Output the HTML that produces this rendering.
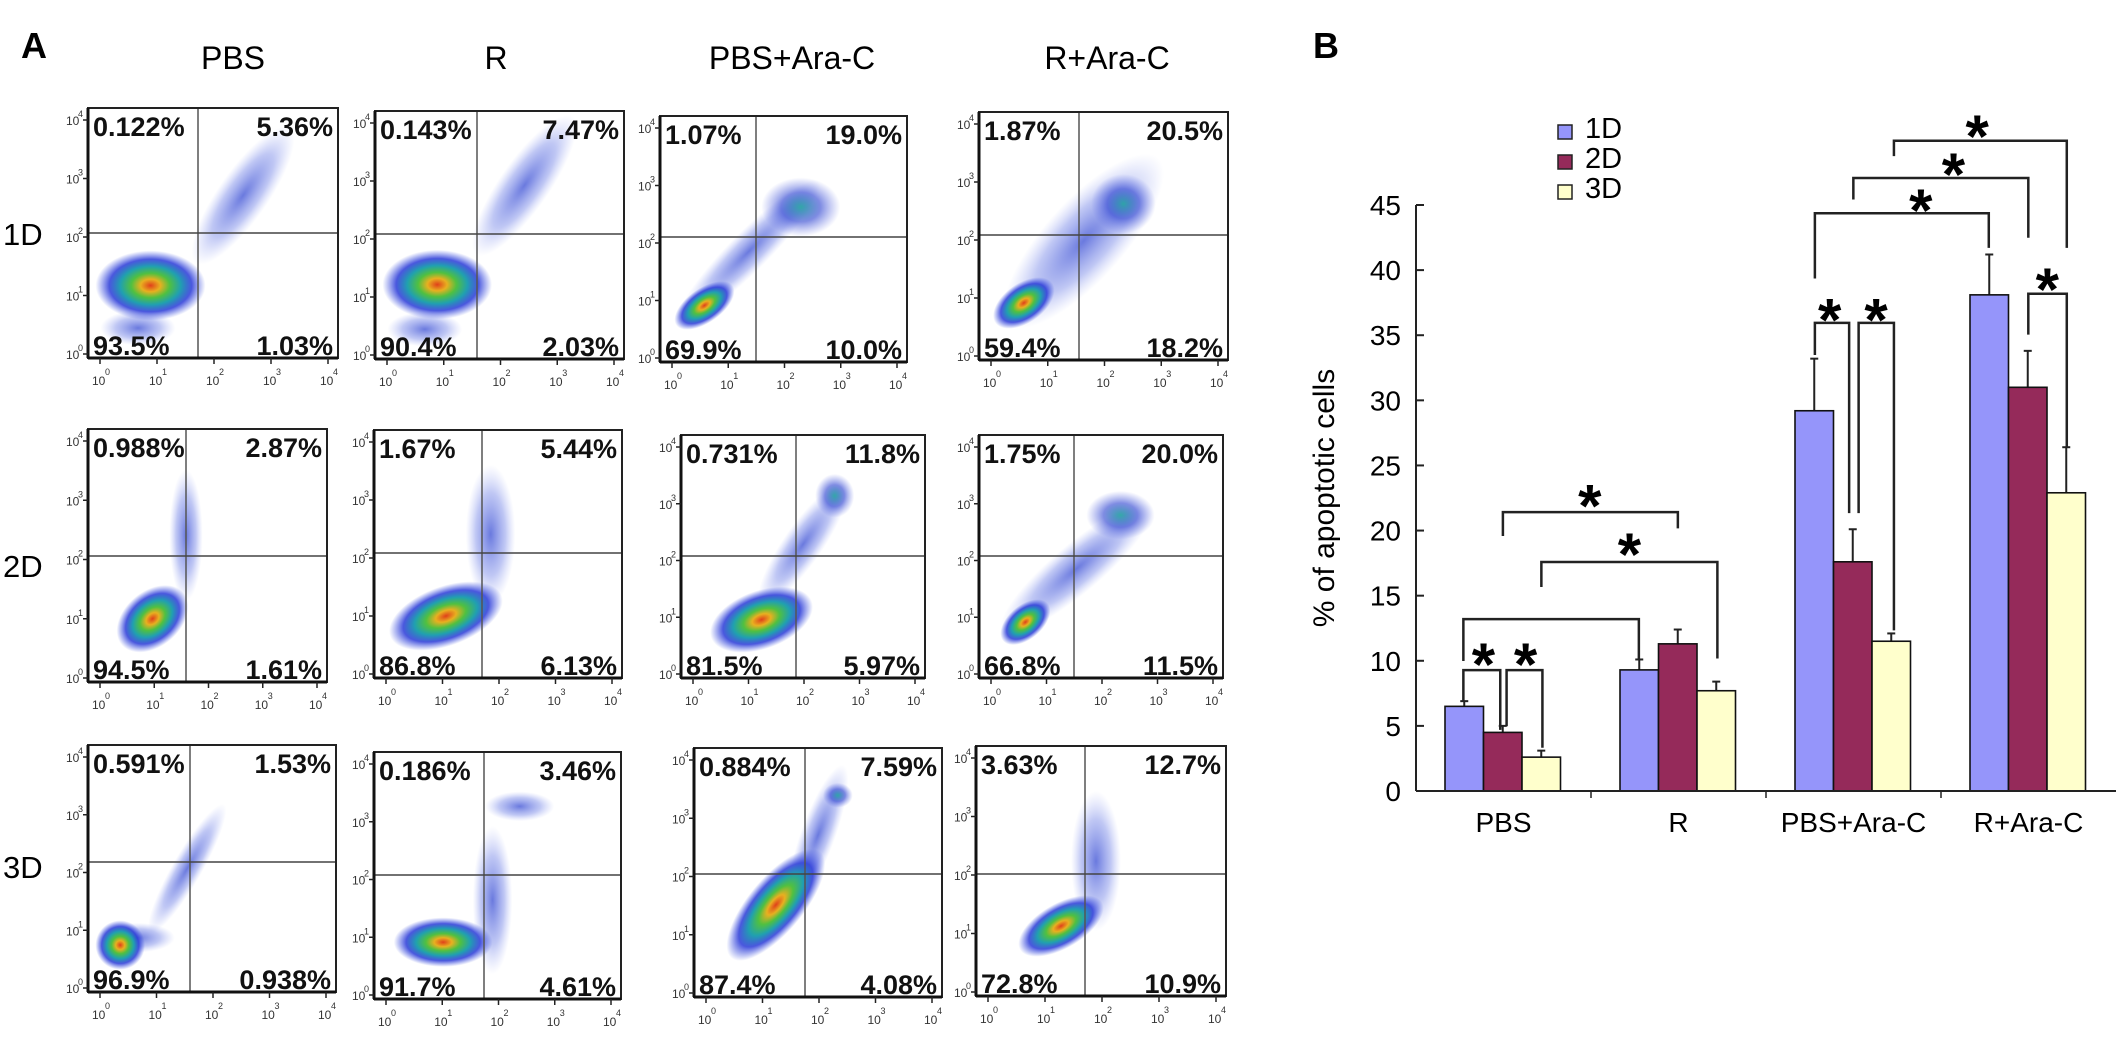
<!DOCTYPE html>
<html><head><meta charset="utf-8">
<style>
html,body{margin:0;padding:0;background:#fff;}
svg{display:block;}
text{font-family:"Liberation Sans",Arial,sans-serif;}
</style></head>
<body>
<svg id="fig" width="2126" height="1054" viewBox="0 0 2126 1054" xmlns="http://www.w3.org/2000/svg">
<defs>
<radialGradient id="gcore" cx="50%" cy="50%" r="50%">
<stop offset="0" stop-color="#e0401a"/>
<stop offset="0.18" stop-color="#e8b020"/>
<stop offset="0.35" stop-color="#50c040"/>
<stop offset="0.55" stop-color="#20a0b0"/>
<stop offset="0.75" stop-color="#2a3ad8" stop-opacity="0.85"/>
<stop offset="1" stop-color="#3a50e0" stop-opacity="0"/>
</radialGradient>
<radialGradient id="gblue" cx="50%" cy="50%" r="50%">
<stop offset="0" stop-color="#2a40d0" stop-opacity="0.7"/>
<stop offset="0.6" stop-color="#4a60e0" stop-opacity="0.35"/>
<stop offset="1" stop-color="#8090f0" stop-opacity="0"/>
</radialGradient>
<radialGradient id="gcyan" cx="50%" cy="50%" r="50%">
<stop offset="0" stop-color="#20a0a0" stop-opacity="0.9"/>
<stop offset="0.5" stop-color="#2a40d0" stop-opacity="0.6"/>
<stop offset="1" stop-color="#5060e0" stop-opacity="0"/>
</radialGradient>
</defs>
<g id="panelA"></g>
<g id="panelB"></g>
</svg>
<script>
const NS="http://www.w3.org/2000/svg";
function mk(tag,attrs,parent,txt){const e=document.createElementNS(NS,tag);for(const k in attrs)e.setAttribute(k,attrs[k]);if(txt!==undefined)e.textContent=txt;parent.appendChild(e);return e;}

/* ---------------- Panel B data ---------------- */
const categories=["PBS","R","PBS+Ara-C","R+Ara-C"];
const seriesNames=["1D","2D","3D"];
const values1D=[6.5,9.3,29.2,38.1];
const values2D=[4.5,11.3,17.6,31.0];
const values3D=[2.6,7.7,11.5,22.9];
const errTop1D=[6.9,10.1,33.2,41.2];
const errTop2D=[5.0,12.4,20.1,33.8];
const errTop3D=[3.1,8.4,12.1,26.4];
const yTicks=[0,5,10,15,20,25,30,35,40,45];
const seriesColors=["#9595fa","#952a5a","#ffffcc"];

/* ---------------- Panel A data ---------------- */
const colTitles=["PBS","R","PBS+Ara-C","R+Ara-C"];
const rowTitles=["1D","2D","3D"];
const quadLabels=[
 ["0.122%","5.36%","93.5%","1.03%"],["0.143%","7.47%","90.4%","2.03%"],["1.07%","19.0%","69.9%","10.0%"],["1.87%","20.5%","59.4%","18.2%"],
 ["0.988%","2.87%","94.5%","1.61%"],["1.67%","5.44%","86.8%","6.13%"],["0.731%","11.8%","81.5%","5.97%"],["1.75%","20.0%","66.8%","11.5%"],
 ["0.591%","1.53%","96.9%","0.938%"],["0.186%","3.46%","91.7%","4.61%"],["0.884%","7.59%","87.4%","4.08%"],["3.63%","12.7%","72.8%","10.9%"]
];

(function(){
const A=document.getElementById('panelA');
const lab=mk('text',{x:21,y:58,'font-size':36,'font-weight':'bold','font-family':'"Liberation Serif",serif'},A,'A');

const colX=[233,496,792,1107];
colTitles.forEach((t,i)=>{const e=mk('text',{x:colX[i],y:69,'font-size':32,'text-anchor':'middle'},A,t);
});
const rowY=[234,566,867];
rowTitles.forEach((t,i)=>{const e=mk('text',{x:3,y:rowY[i]+11,'font-size':31},A,t);
});
const boxes=[
 [88,108,338,358,198,233],[375,111,624,359,477,234],[660,116,907,362,756,237],[979,112,1228,360,1079,235],
 [88,429,327,682,186,556],[374,430,622,678,482,553],[681,435,925,678,796,556],[979,435,1223,678,1074,556],
 [88,745,336,992,190,862],[374,752,621,999,484,875],[694,748,942,997,805,874],[976,746,1226,996,1085,874]
];
const clusters=[
 [[0.2,0.88,0.15,0.07,0,'b'],[0.62,0.35,0.1,0.33,35,'b'],[0.25,0.71,0.22,0.14,0,'c']],
 [[0.2,0.88,0.15,0.07,0,'b'],[0.6,0.3,0.1,0.34,35,'b'],[0.25,0.70,0.22,0.14,0,'c']],
 [[0.36,0.55,0.08,0.4,45,'b'],[0.57,0.37,0.16,0.12,0,'y'],[0.18,0.77,0.14,0.07,-35,'c']],
 [[0.42,0.52,0.16,0.45,42,'b'],[0.58,0.37,0.13,0.12,0,'y'],[0.18,0.77,0.14,0.08,-35,'c']],
 [[0.41,0.42,0.07,0.26,0,'b'],[0.27,0.75,0.17,0.11,-40,'c']],
 [[0.47,0.42,0.1,0.28,0,'b'],[0.29,0.75,0.24,0.12,-20,'c']],
 [[0.5,0.45,0.08,0.3,35,'b'],[0.63,0.25,0.08,0.09,0,'y'],[0.33,0.76,0.22,0.12,-20,'c']],
 [[0.4,0.55,0.1,0.4,50,'b'],[0.58,0.33,0.14,0.1,0,'y'],[0.19,0.77,0.12,0.07,-40,'c']],
 [[0.4,0.5,0.06,0.3,30,'b'],[0.2,0.78,0.15,0.06,0,'b'],[0.13,0.81,0.1,0.1,0,'c']],
 [[0.48,0.6,0.08,0.3,0,'b'],[0.59,0.22,0.14,0.06,0,'b'],[0.28,0.77,0.2,0.1,0,'c']],
 [[0.5,0.35,0.07,0.3,20,'b'],[0.58,0.19,0.06,0.05,0,'y'],[0.33,0.63,0.28,0.11,-50,'c']],
 [[0.48,0.46,0.1,0.28,0,'b'],[0.34,0.72,0.19,0.09,-30,'c']]
];
boxes.forEach((b,pi)=>{
 const [l,t,r,bo,vx,hy]=b;const w=r-l,h=bo-t;
 const g=mk('g',{},A);
 
 
 const clipId='clip'+pi;
 const cp=mk('clipPath',{id:clipId},g);mk('rect',{x:l,y:t,width:w,height:h},cp);
 const cg=mk('g',{'clip-path':'url(#'+clipId+')'},g);
 clusters[pi].forEach(c=>{
  const cx=l+c[0]*w,cy=t+c[1]*h;
  const fill=c[5]==='c'?'url(#gcore)':(c[5]==='y'?'url(#gcyan)':'url(#gblue)');
  const e=mk('ellipse',{cx:cx,cy:cy,rx:c[2]*w,ry:c[3]*h,fill:fill,transform:'rotate('+(c[4])+' '+cx+' '+cy+')'},cg);
  
 });
 const ql=mk('line',{x1:vx,y1:t,x2:vx,y2:bo,stroke:'#555','stroke-width':1.5},g);
 
 const qh=mk('line',{x1:l,y1:hy,x2:r,y2:hy,stroke:'#444','stroke-width':1.5},g);
 
 const bx=mk('rect',{x:l,y:t,width:w,height:h,fill:'none',stroke:'#222','stroke-width':2},g);
 
 mk('line',{x1:l,y1:t,x2:l,y2:bo,stroke:'#111','stroke-width':3},g);
 mk('line',{x1:l,y1:bo,x2:r,y2:bo,stroke:'#111','stroke-width':3},g);
 for(let i=0;i<5;i++){
  const yy=bo-4-i*(h-16)/4;
  mk('line',{x1:l-5,y1:yy,x2:l,y2:yy,stroke:'#222','stroke-width':1.5},g);
  const ty=mk('text',{x:l-22,y:yy+5,'font-size':12,fill:'#333'},g,'10');
  
  mk('text',{x:l-10,y:yy-3,'font-size':9,fill:'#333'},g,String(i));
  const xx=l+12+i*(w-22)/4;
  mk('line',{x1:xx,y1:bo,x2:xx,y2:bo+6,stroke:'#222','stroke-width':1.5},g);
  const tx=mk('text',{x:xx-8,y:bo+27,'font-size':12,fill:'#333'},g,'10');
  
  mk('text',{x:xx+5,y:bo+17,'font-size':9,fill:'#333'},g,String(i));
 }
 const q=quadLabels[pi];
 const pos=[[l+5,t+28,'start'],[r-5,t+28,'end'],[l+5,bo-3,'start'],[r-5,bo-3,'end']];
 const qn=['upper-left','upper-right','lower-left','lower-right'];
 q.forEach((s,k)=>{const e=mk('text',{x:pos[k][0],y:pos[k][1],'font-size':27,'font-weight':'bold','text-anchor':pos[k][2],fill:'#111'},g,s);
  });
});
})();

/* ---------------- Panel B drawing ---------------- */
(function(){
const B=document.getElementById('panelB');
const x0=1416,x1=2116,yBase=791,yTopPx=205,yMax=45;
const yScale=v=>yBase-(v/yMax)*(yBase-yTopPx);
const catW=(x1-x0)/categories.length;
const barW=38.5,groupOff=29;
const xBar=(ci,si)=>x0+ci*catW+groupOff+si*barW;
const bl=mk('text',{x:1313,y:58,'font-size':36,'font-weight':'bold','font-family':'"Liberation Serif",serif'},B,'B');

const vals=[values1D,values2D,values3D],errs=[errTop1D,errTop2D,errTop3D];
categories.forEach((c,ci)=>{
 vals.forEach((arr,si)=>{
  const x=xBar(ci,si),yv=yScale(arr[ci]);
  const ye=yScale(errs[si][ci]);
  const el=mk('line',{x1:x+barW/2,y1:yv,x2:x+barW/2,y2:ye,stroke:'#222','stroke-width':2},B);
  
  mk('line',{x1:x+barW/2-4,y1:ye,x2:x+barW/2+4,y2:ye,stroke:'#222','stroke-width':2},B);
  const r=mk('rect',{x:x,y:yv,width:barW,height:yBase-yv,fill:seriesColors[si],stroke:'#111','stroke-width':1.6},B);
  
  
 });
 const t=mk('text',{x:x0+ci*catW+catW/2,y:832,'font-size':28,'text-anchor':'middle'},B,c);
 
 if(ci>0){mk('line',{x1:x0+ci*catW,y1:yBase,x2:x0+ci*catW,y2:yBase+7,stroke:'#222','stroke-width':1.5},B);}
});
const ax=mk('line',{x1:x0,y1:yTopPx,x2:x0,y2:yBase,stroke:'#222','stroke-width':2},B);

const xa=mk('line',{x1:x0,y1:yBase,x2:x1,y2:yBase,stroke:'#222','stroke-width':2},B);

yTicks.forEach(v=>{const y=yScale(v);
 mk('line',{x1:x0,y1:y,x2:x0+8,y2:y,stroke:'#222','stroke-width':2},B);
 const t=mk('text',{x:1401,y:y+10,'font-size':28,'text-anchor':'end'},B,String(v));
 });
const yt=mk('text',{x:1334,y:498,'font-size':30,'text-anchor':'middle',transform:'rotate(-90 1334 498)'},B,'% of apoptotic cells');

seriesNames.forEach((s,i)=>{const yy=125+i*30;
 const g=mk('g',{},B);
 mk('rect',{x:1558,y:yy,width:14,height:14,fill:seriesColors[i],stroke:'#222','stroke-width':1.5},g);
 mk('text',{x:1585,y:yy+13,'font-size':29},g,s);});
const zx=v=>1300+v*0.527, zy=v=>100+v*0.51;
const brackets=[[310,380,1118,1180,1235],[392,460,1118,1228,1270],[310,643,1018,1100,1095],[385,717,808,855,840],[458,792,906,955,1095],[977,1042,437,500,810],[1060,1127,437,810,1040],[977,1307,222,350,290],[1050,1382,153,195,270],[1127,1455,80,110,290],[1382,1455,380,460,680]];
brackets.forEach(b=>{const p=mk('polyline',{points:`${zx(b[0])},${zy(b[3])} ${zx(b[0])},${zy(b[2])} ${zx(b[1])},${zy(b[2])} ${zx(b[1])},${zy(b[4])}`,fill:'none',stroke:'#222','stroke-width':2.5},B);
 });
const stars=[[348,1080],[428,1080],[550,770],[625,865],[1005,405],[1093,405],[1178,190],[1240,120],[1285,45],[1418,345]];
stars.forEach(s=>{const t=mk('text',{x:zx(s[0]),y:zy(s[1])+34,'font-size':60,'font-weight':'bold','text-anchor':'middle'},B,'*');
 });
})();
</script>
</body></html>
